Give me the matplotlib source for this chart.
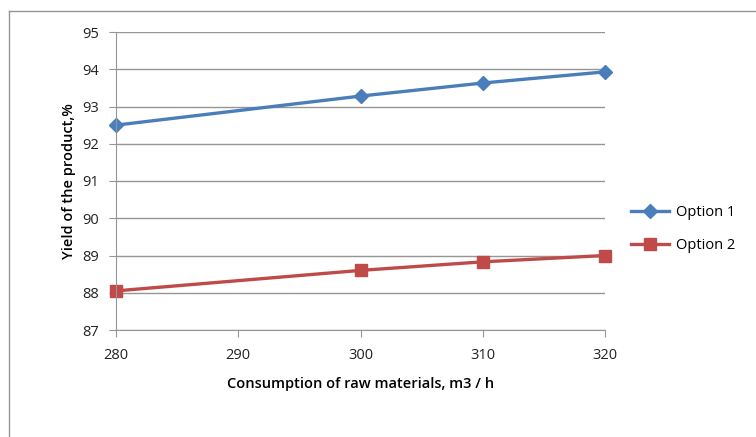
import matplotlib.pyplot as plt
from matplotlib.lines import Line2D

consumption = [280, 300, 310, 320]
option1 = [92.5, 93.28, 93.63, 93.93]
option2 = [88.05, 88.6, 88.83, 89.0]
y_ticks = [87, 88, 89, 90, 91, 92, 93, 94, 95]
x_ticks = [280, 290, 300, 310, 320]

plt.rcParams['font.family'] = ['Open Sans', 'DejaVu Sans']

fig = plt.figure(figsize=(7.56, 4.37), dpi=100)
ax = fig.add_axes([116 / 756, 1 - 330 / 437, (605 - 116) / 756, (330 - 32) / 437])

ax.plot(consumption, option1, color='#4A7EBB', lw=2.4, marker='D', ms=7, label='Option 1')
ax.plot(consumption, option2, color='#BE4B48', lw=2.4, marker='s', ms=8.5, label='Option 2')

ax.set_xlim(280, 320)
ax.set_ylim(87, 95)
ax.set_xticks(x_ticks)
ax.set_yticks(y_ticks)
ax.grid(axis='y', color='#959595', lw=1)
ax.set_axisbelow(True)
for s in ['top', 'right']:
    ax.spines[s].set_visible(False)
for s in ['left', 'bottom']:
    ax.spines[s].set_color('#959595')
ax.tick_params(colors='#959595', length=5, labelcolor='#222222', labelsize=10.5)
ax.tick_params(axis='y', pad=7)
ax.tick_params(axis='x', pad=8)

ax.set_ylabel('Yield of the product,%', fontsize=10.5, fontweight='semibold', labelpad=5)
ax.set_xlabel('Consumption of raw materials, m3 / h', fontsize=10.5, fontweight='semibold', labelpad=10)

for lc in ax.get_lines():
    lc.set_clip_on(False)

fig.legend(loc='upper left', bbox_to_anchor=(618 / 756, 1 - 192 / 437), frameon=False,
           fontsize=10.5, handlelength=2.6, labelspacing=1.2, handletextpad=0.5)

fig.add_artist(Line2D([9 / 756, 9 / 756], [0, 1 - 11 / 437], transform=fig.transFigure, color='#959595', lw=1))
fig.add_artist(Line2D([9 / 756, 1], [1 - 11 / 437, 1 - 11 / 437], transform=fig.transFigure, color='#959595', lw=1))

fig.savefig('out.png', dpi=100)
